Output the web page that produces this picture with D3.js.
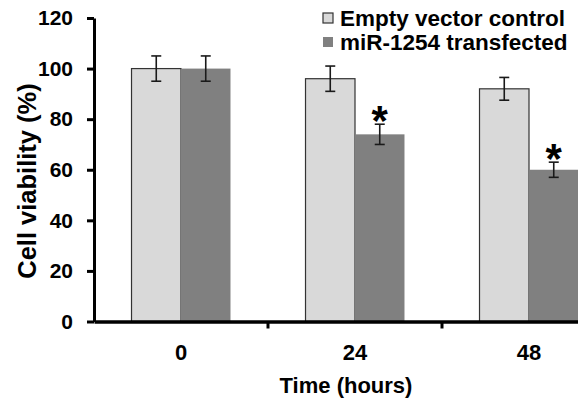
<!DOCTYPE html>
<meta charset="utf-8">
<script src="https://d3js.org/d3.v7.min.js"></script>
<style>
body { margin: 0; background: #fff; }
text { font-family: "Liberation Sans", Arial, sans-serif; font-weight: bold; fill: #000; }
</style>
<body>
<script>

// data
var times = ["0", "24", "48"];
var seriesNames = ["Empty vector control", "miR-1254 transfected"];
var controlVals = [100, 96, 92];
var controlErr = [5, 5, 4.5];
var mirVals = [100, 74, 60];
var mirErr = [5, 4, 3];
var significant = [false, true, true];
var yTicks = [0, 20, 40, 60, 80, 100, 120];

var width = 578, height = 401;
var colors = ["#d9d9d9", "#808080"];

var svg = d3.select("body").append("svg")
    .attr("width", width)
    .attr("height", height);

var x = d3.scaleBand()
    .domain(times)
    .range([94, 616]);

var xs = d3.scaleBand()
    .domain([0, 1])
    .range([0, x.bandwidth()])
    .paddingOuter(0.758);

var y = d3.scaleLinear()
    .domain([0, 120])
    .range([321.5, 18]);

// rows: one per time point and series
var rows = [];
times.forEach(function(t, i) {
  rows.push({t: t, s: 0, v: controlVals[i], e: controlErr[i], sig: false});
  rows.push({t: t, s: 1, v: mirVals[i], e: mirErr[i], sig: significant[i]});
});

// bars
svg.append("g")
  .selectAll("rect")
  .data(rows)
  .enter().append("rect")
    .attr("x", function(d) { return x(d.t) + xs(d.s); })
    .attr("y", function(d) { return y(d.v); })
    .attr("width", xs.bandwidth())
    .attr("height", function(d) { return y(0) - y(d.v); })
    .style("fill", function(d) { return colors[d.s]; })
    .style("stroke", function(d) { return d.s == 0 ? "#333" : "none"; })
    .style("stroke-width", 1.2);

// error bars
var eb = svg.append("g")
  .selectAll("g")
  .data(rows)
  .enter().append("g")
    .attr("transform", function(d) {
      return "translate(" + (x(d.t) + xs(d.s) + xs.bandwidth() / 2) + ",0)"; })
    .style("stroke", "#1a1a1a")
    .style("stroke-width", 1.6);

eb.append("line")
    .attr("y1", function(d) { return y(d.v + d.e); })
    .attr("y2", function(d) { return y(d.v - d.e); });
eb.append("line")
    .attr("x1", -5).attr("x2", 5)
    .attr("y1", function(d) { return y(d.v + d.e); })
    .attr("y2", function(d) { return y(d.v + d.e); });
eb.append("line")
    .attr("x1", -5).attr("x2", 5)
    .attr("y1", function(d) { return y(d.v - d.e); })
    .attr("y2", function(d) { return y(d.v - d.e); });

// asterisks
svg.append("g")
  .selectAll("text")
  .data(rows.filter(function(d) { return d.sig; }))
  .enter().append("text")
    .attr("x", function(d) { return x(d.t) + xs(d.s) + xs.bandwidth() / 2; })
    .attr("y", function(d) { return y(d.v + d.e) + 11; })
    .attr("text-anchor", "middle")
    .style("font-size", "42px")
    .text("*");

// y axis
var yAxis = svg.append("g")
    .attr("transform", "translate(94,0)")
    .call(d3.axisLeft(y).tickValues(yTicks).tickSize(7).tickSizeOuter(0).tickPadding(14));
yAxis.select(".domain").attr("stroke-width", 3);
yAxis.selectAll(".tick line").attr("stroke-width", 3);
yAxis.selectAll("text")
    .style("font-size", "21px")
    .style("font-family", "'Liberation Sans', Arial, sans-serif");

// x axis: labels at band centres, tick marks at band edges
var xAxis = svg.append("g")
    .attr("transform", "translate(0," + y(0) + ")")
    .call(d3.axisBottom(x).tickSize(0).tickSizeOuter(0).tickPadding(23));
xAxis.select(".domain").attr("stroke-width", 3.5);
xAxis.selectAll("text")
    .style("font-size", "22px")
    .style("font-family", "'Liberation Sans', Arial, sans-serif");

xAxis.selectAll(".edge")
  .data(times.slice(0, 2))
  .enter().append("line")
    .attr("class", "edge")
    .attr("x1", function(d) { return x(d) + x.bandwidth(); })
    .attr("x2", function(d) { return x(d) + x.bandwidth(); })
    .attr("y1", 0)
    .attr("y2", 7)
    .attr("stroke", "#000")
    .attr("stroke-width", 3);

// axis titles
svg.append("text")
    .attr("transform", "translate(36,181) rotate(-90)")
    .attr("text-anchor", "middle")
    .style("font-size", "25.5px")
    .text("Cell viability (%)");

svg.append("text")
    .attr("x", 346)
    .attr("y", 393)
    .attr("text-anchor", "middle")
    .style("font-size", "22px")
    .text("Time (hours)");

// legend
var legend = svg.append("g")
  .selectAll("g")
  .data(seriesNames)
  .enter().append("g")
    .attr("transform", function(d, i) { return "translate(323," + (13 + i * 24) + ")"; });

legend.append("rect")
    .attr("width", 10)
    .attr("height", 10)
    .style("fill", function(d, i) { return colors[i]; })
    .style("stroke", function(d, i) { return i == 0 ? "#333" : "none"; })
    .style("stroke-width", 1.2);

legend.append("text")
    .attr("x", 17)
    .attr("y", 13)
    .style("font-size", "22.5px")
    .text(function(d) { return d; });

</script>
</body>
</html>
